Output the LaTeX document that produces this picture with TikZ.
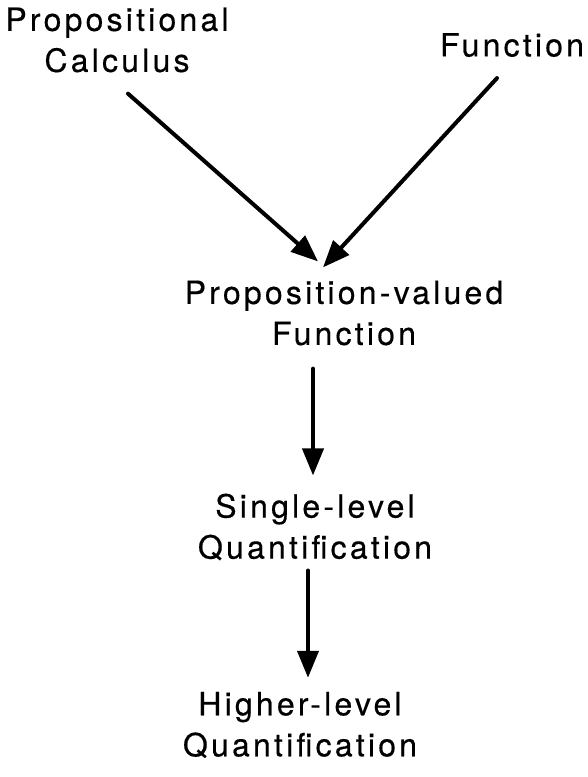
\documentclass[tikz,border=0pt]{standalone}
\usepackage{fontspec}
\setmainfont[LetterSpace=10,FakeBold=0.4]{TeX Gyre Heros}
\usepackage{tikz}
\usetikzlibrary{arrows.meta}

\begin{document}
\begin{tikzpicture}[x=1pt,y=-1pt,
  lbl/.style={align=center,inner sep=0pt,font=\fontsize{32}{41}\selectfont},
  arr/.style={-{Triangle[length=27pt,width=21pt]},line width=4pt,line cap=round}
]
\useasboundingbox (0,0) rectangle (587,777);
\node[lbl] (calc) at (117,40) {Propositional\\Calculus};
\node[lbl] (func) at (512,45) {Function};
\node[lbl] (pvf) at (344,313) {Proposition-valued\\Function};
\node[lbl] (single) at (315,527) {Single-level\\Quantification};
\node[lbl] (higher) at (300,725) {Higher-level\\Quantification};
\draw[arr] ([shift={(11,21)}]calc.south) -- ([shift={(-26,-19)}]pvf.north);
\draw[arr] ([shift={(-15,21)}]func.south) -- ([shift={(-21,-13)}]pvf.north);
\draw[arr] ([shift={(-31,23)}]pvf.south) -- ([shift={(-2,-18)}]single.north);
\draw[arr] ([shift={(-7,10)}]single.south) -- ([shift={(8,-14)}]higher.north);
\end{tikzpicture}
\end{document}
